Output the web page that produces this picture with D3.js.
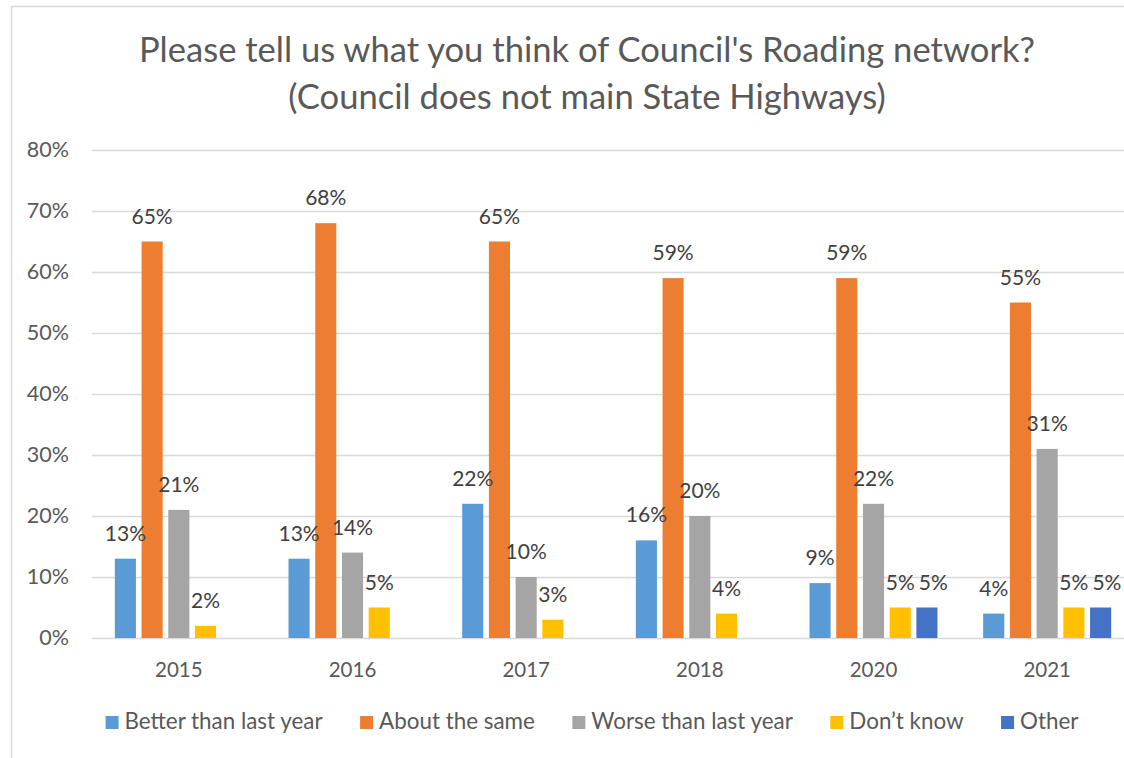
<!DOCTYPE html>
<html>
<head>
<meta charset="utf-8">
<script src="https://cdn.jsdelivr.net/npm/d3@7"></script>
<style>
  html, body { margin: 0; padding: 0; background: #fff; }
  svg { display: block; }
  text { font-family: Lato, "Open Sans", sans-serif; }
</style>
</head>
<body>
<svg id="chart" width="1124" height="758"></svg>
<script>
// Survey responses by year (percent of respondents)
const categories = ["2015", "2016", "2017", "2018", "2020", "2021"];
const seriesNames = ["Better than last year", "About the same", "Worse than last year", "Don\u2019t know", "Other"];
const betterValues = [13, 13, 22, 16, 9, 4];
const sameValues = [65, 68, 65, 59, 59, 55];
const worseValues = [21, 14, 10, 20, 22, 31];
const dontKnowValues = [2, 5, 3, 4, 5, 5];
const otherValues = [null, null, null, null, 5, 5];
const yTickValues = [0, 10, 20, 30, 40, 50, 60, 70, 80];
const titleLines = ["Please tell us what you think of Council's Roading network?", "(Council does not main State Highways)"];

const seriesValues = [betterValues, sameValues, worseValues, dontKnowValues, otherValues];
const colors = ["#5B9BD5", "#ED7D31", "#A5A5A5", "#FFC000", "#4472C4"];

const svg = d3.select("#chart");

// outer chart frame (continues past the right and bottom edges)
svg.append("rect")
  .attr("x", 11.5).attr("y", 6.5)
  .attr("width", 1160).attr("height", 780)
  .attr("fill", "#fff").attr("stroke", "#D9D9D9").attr("stroke-width", 1.5);

// title
svg.append("g").selectAll("text")
  .data(titleLines).join("text")
  .attr("x", 587)
  .attr("y", (d, i) => 62 + i * 47)
  .attr("text-anchor", "middle")
  .attr("fill", "#595959")
  .attr("font-size", 34.6)
  .text(d => d);

// scales
const x0 = d3.scaleBand().domain(categories).range([92, 1134]).paddingInner(0.263).paddingOuter(0.1315);
const x1 = d3.scaleBand().domain(seriesNames).range([0, x0.bandwidth()]).paddingInner(0.21);
const y = d3.scaleLinear().domain([0, 80]).range([638, 150]);
const color = d3.scaleOrdinal().domain(seriesNames).range(colors);

// gridlines and y tick labels
const yAxis = d3.axisLeft(y).tickValues(yTickValues).tickSize(-(1134 - 92)).tickFormat(d => d + "%").tickPadding(23);
const gy = svg.append("g").attr("transform", "translate(92,0)").call(yAxis);
gy.select(".domain").remove();
gy.selectAll(".tick line").attr("stroke", "#D9D9D9").attr("stroke-width", 1.3);
gy.selectAll(".tick text").attr("fill", "#595959").attr("font-size", 21.5).attr("font-family", "Lato, sans-serif");

// x axis category labels
const xAxis = d3.axisBottom(x0).tickSize(0).tickPadding(0);
const gx = svg.append("g").attr("transform", "translate(0,638)").call(xAxis);
gx.select(".domain").remove();
gx.selectAll(".tick text").attr("fill", "#595959").attr("font-size", 20.5).attr("font-family", "Lato, sans-serif")
  .attr("y", 39).attr("dy", 0);

// bars
const rows = categories.map((c, i) => ({
  category: c,
  items: seriesNames.map((s, j) => ({ series: s, value: seriesValues[j][i] })).filter(d => d.value != null)
}));

const groups = svg.append("g").selectAll("g")
  .data(rows).join("g")
  .attr("transform", d => `translate(${x0(d.category)},0)`);

groups.selectAll("rect")
  .data(d => d.items).join("rect")
  .attr("x", d => x1(d.series))
  .attr("width", x1.bandwidth())
  .attr("y", d => y(d.value))
  .attr("height", d => y(0) - y(d.value))
  .attr("fill", d => color(d.series));

// value labels above bars
groups.each(function () {
  const labels = d3.select(this).selectAll("text.value")
    .data(d => d.items).join("text")
    .attr("class", "value")
    .attr("x", d => x1(d.series) + x1.bandwidth() / 2)
    .attr("y", d => y(d.value) - 18)
    .attr("text-anchor", "middle")
    .attr("fill", "#404040")
    .attr("font-size", 21)
    .text(d => d.value + "%");

  // nudge a label to the right when it would collide with an earlier one
  const placed = [];
  labels.each(function () {
    const node = this;
    let b = node.getBBox();
    for (const p of placed) {
      const vOverlap = b.y < p.y + p.height && p.y < b.y + b.height;
      if (vOverlap && b.x < p.x + p.width + 4) {
        const shift = p.x + p.width + 4 - b.x;
        node.setAttribute("x", +node.getAttribute("x") + shift);
        b = node.getBBox();
      }
    }
    placed.push(b);
  });
});

// legend, centred under the plot
const legendGap = 37.5;
const legend = svg.append("g");
const items = legend.selectAll("g").data(seriesNames).join("g");
items.append("rect").attr("width", 13).attr("height", 13).attr("y", 716).attr("fill", d => color(d));
items.append("text").attr("x", 19).attr("y", 729).attr("fill", "#595959").attr("font-size", 22.4).text(d => d);
const widths = [];
items.each(function () {
  widths.push(19 + this.querySelector("text").getComputedTextLength());
});
const totalW = d3.sum(widths) + legendGap * (widths.length - 1);
let cx = 592 - totalW / 2;
items.attr("transform", (d, i) => {
  const tx = cx;
  cx += widths[i] + legendGap;
  return `translate(${tx},0)`;
});
</script>
</body>
</html>
